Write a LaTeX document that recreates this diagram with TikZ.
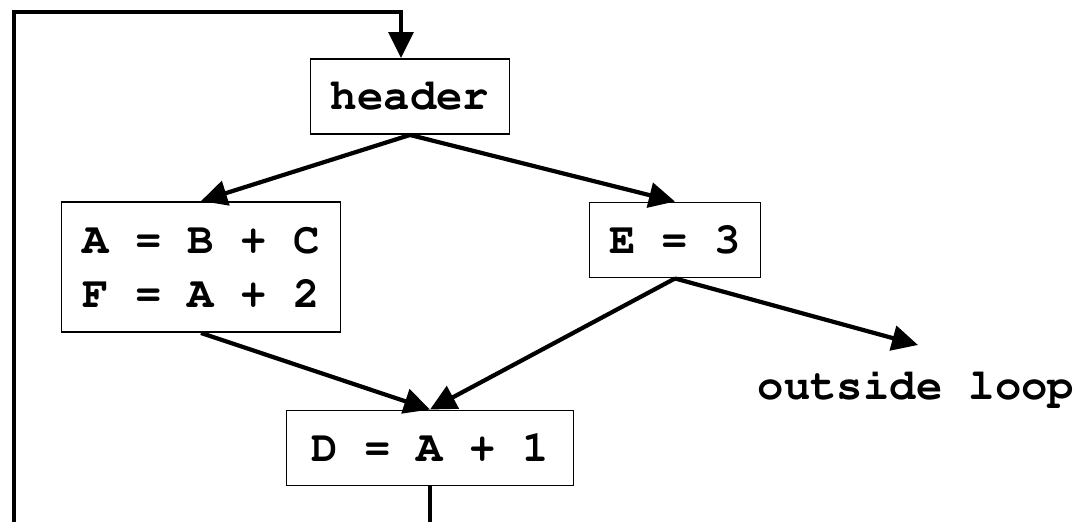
\documentclass[tikz,border=0pt]{standalone}
\usepackage[T1]{fontenc}
\usepackage{courier}
\usepackage{tikz}
\usetikzlibrary{arrows.meta}

\begin{document}
\begin{tikzpicture}[
    block/.style={draw, line width=1.1pt, minimum height=1.5cm, align=center,
        font=\fontsize{25}{30.7}\selectfont\ttfamily\bfseries},
    flow/.style={line width=2.4pt, -{Triangle[length=0.52cm, width=0.5cm]}}
]
    % Fix the page size
    \useasboundingbox (0, 0) rectangle (21.66, 10.42);
    \clip (0, 0) rectangle (21.66, 10.42);

    % Draw the blocks
    \node[block, minimum width=3.98cm] (header) at (8.2, 8.49) {header};
    \node[block, minimum width=5.58cm, minimum height=2.6cm] (left) at (4.02, 5.08) {A = B + C\\F = A + 2};
    \node[block, minimum width=3.42cm] (assignE) at (13.5, 5.62) {E = 3};
    \node[block, minimum width=5.74cm] (assignD) at (8.6, 1.46) {D = A + 1};

    % Exit of the loop
    \node[font=\fontsize{25}{30.7}\selectfont\ttfamily\bfseries] (outside) at (18.32, 2.66) {outside loop};
    \coordinate (exit) at (18.36, 3.52);

    % Draw the edges
    \draw[flow] (header.south) -- (left.north);
    \draw[flow] (header.south) -- (assignE.north);
    \draw[flow] (left.south) -- (assignD.north);
    \draw[flow] (assignE.south) -- (assignD.north);
    \draw[flow] (assignE.south) -- (exit);

    % Back edge
    \coordinate (bottom) at (0.28, -0.5);
    \coordinate (top) at (8.02, 10.18);
    \draw[flow, line width=1.9pt] (assignD.south) |- (bottom) |- (top) -- (top |- header.north);
\end{tikzpicture}
\end{document}
